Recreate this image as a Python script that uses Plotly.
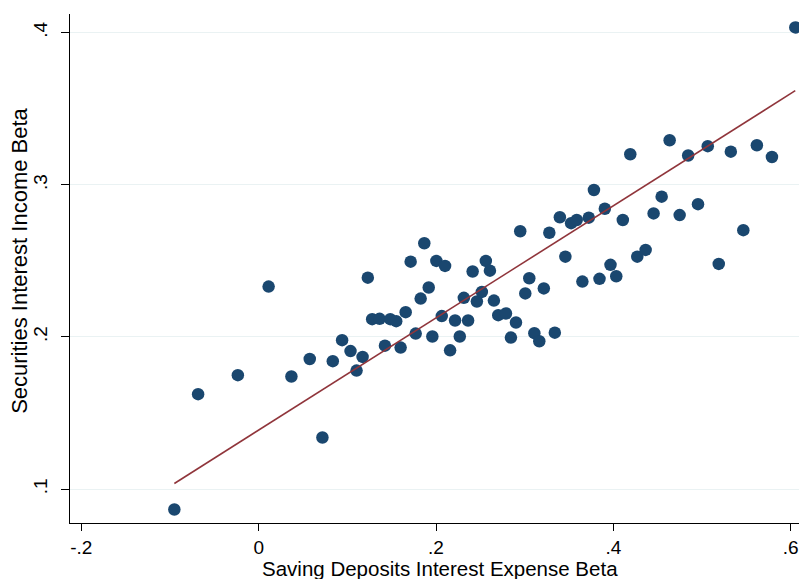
import plotly.graph_objects as go

# Saving deposits interest expense beta (x) vs securities interest income beta (y)
deposit_beta = [
    -0.0951, -0.0683, -0.0235, 0.0112, 0.0369, 0.0576, 0.0719, 0.0836, 0.0941, 0.1036,
    0.1104, 0.1172, 0.1231, 0.1280, 0.1364, 0.1424, 0.1484, 0.1551, 0.1601, 0.1658,
    0.1714, 0.1771, 0.1827, 0.1868, 0.1918, 0.1959, 0.2004, 0.2065, 0.2102, 0.2159,
    0.2215, 0.2268, 0.2314, 0.2362, 0.2413, 0.2461, 0.2517, 0.2562, 0.2608, 0.2653,
    0.2702, 0.2789, 0.2845, 0.2902, 0.2950, 0.3007, 0.3052, 0.3109, 0.3165, 0.3216,
    0.3278, 0.3340, 0.3397, 0.3459, 0.3524, 0.3587, 0.3651, 0.3723, 0.3781, 0.3844,
    0.3904, 0.3968, 0.4033, 0.4107, 0.4191, 0.4270, 0.4364, 0.4454, 0.4545, 0.4635,
    0.4748, 0.4844, 0.4955, 0.5065, 0.5189, 0.5325, 0.5466, 0.5619, 0.5789, 0.6052,
]
securities_beta = [
    0.0866, 0.1624, 0.1749, 0.2331, 0.1740, 0.1855, 0.1339, 0.1841, 0.1979, 0.1907,
    0.1779, 0.1869, 0.2390, 0.2117, 0.2119, 0.1943, 0.2117, 0.2104, 0.1930, 0.2163,
    0.2495, 0.2022, 0.2252, 0.2616, 0.2325, 0.2003, 0.2500, 0.2137, 0.2467, 0.1912,
    0.2108, 0.2003, 0.2257, 0.2108, 0.2430, 0.2233, 0.2296, 0.2500, 0.2436, 0.2239,
    0.2143, 0.2154, 0.1996, 0.2095, 0.2695, 0.2286, 0.2386, 0.2025, 0.1972, 0.2319,
    0.2685, 0.2028, 0.2787, 0.2528, 0.2748, 0.2769, 0.2364, 0.2784, 0.2966, 0.2382,
    0.2843, 0.2474, 0.2399, 0.2769, 0.3201, 0.2528, 0.2572, 0.2812, 0.2922, 0.3293,
    0.2801, 0.3193, 0.2873, 0.3254, 0.2480, 0.3218, 0.2702, 0.3260, 0.3183, 0.4035,
]

# fitted line as drawn in the original (end points)
fit_x = [-0.0951, 0.6052]
fit_y = [0.1037, 0.3619]

x_ticks = [-0.2, 0, 0.2, 0.4, 0.6]
x_labels = ["-.2", "0", ".2", ".4", ".6"]
y_ticks = [0.1, 0.2, 0.3, 0.4]
y_labels = [".1", ".2", ".3", ".4"]

x_title = "Saving Deposits Interest Expense Beta"
y_title = "Securities Interest Income Beta"

fig = go.Figure()
fig.add_trace(go.Scatter(
    x=deposit_beta, y=securities_beta, mode="markers",
    marker=dict(size=12.5, color="#1a476f"),
    showlegend=False,
))
fig.add_trace(go.Scatter(
    x=fit_x, y=fit_y, mode="lines",
    line=dict(color="#90353b", width=1.6),
    showlegend=False,
))

fig.update_layout(
    width=799,
    height=579,
    margin=dict(l=70, r=0, t=14, b=56),
    plot_bgcolor="white",
    paper_bgcolor="white",
    font=dict(family="Liberation Sans, Arial", size=19, color="black"),
    xaxis=dict(
        range=[-0.2128, 0.6094],
        tickvals=x_ticks, ticktext=x_labels,
        ticks="outside", ticklen=7, tickcolor="black",
        showline=True, linecolor="black", linewidth=1,
        showgrid=False, zeroline=False, automargin=False,
    ),
    yaxis=dict(
        range=[0.0777, 0.4123],
        tickvals=y_ticks, ticktext=y_labels, tickangle=-90,
        ticks="outside", ticklen=8, tickcolor="black", ticklabelstandoff=6,
        showline=True, linecolor="black", linewidth=1,
        showgrid=True, gridcolor="#eaf2f3", gridwidth=1.2,
        zeroline=False, automargin=False,
    ),
)

# axis titles
fig.add_annotation(
    text=x_title, xref="paper", yref="paper", x=0.508, y=0,
    xanchor="center", yanchor="middle", yshift=-45, showarrow=False,
    font=dict(size=20.5),
)
fig.add_annotation(
    text=y_title, xref="paper", yref="paper", x=0, y=0.515,
    xanchor="center", yanchor="middle", xshift=-50, textangle=-90,
    showarrow=False, font=dict(size=22),
)

# drop the default body margin so the 799x579 figure fills the window
fig.write_html(
    "out.html",
    config={"displayModeBar": False},
    post_script="document.body.style.margin='0';document.body.style.overflow='hidden';",
)
